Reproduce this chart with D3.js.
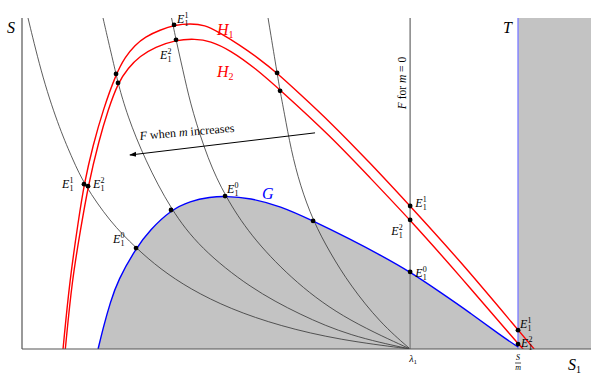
<!DOCTYPE html>
<html>
<head>
<meta charset="utf-8">
<script src="https://cdn.jsdelivr.net/npm/d3@7"></script>
<style>
  body { margin: 0; background: #fff; }
  svg { display: block; }
</style>
</head>
<body>
<div id="chart"></div>
<script>
// values: x is S1 with lambda1 = 10, y is S with the top of the frame = 10
const lambda1 = 10;
const sOverM = 12.78;
const xMax = 14.66;
const yMax = 10;

// G (blue, washout boundary)
const gX = [1.96, 2.11, 2.27, 2.47, 2.94, 3.3, 3.84, 4.33, 4.85, 5.23, 5.88, 6.65, 7.5, 8.45, 9.23, 10, 10.77, 11.55, 12.32, 12.78];
const gY = [0, 0.72, 1.39, 2.08, 3.05, 3.6, 4.2, 4.47, 4.59, 4.62, 4.56, 4.32, 3.87, 3.32, 2.84, 2.33, 1.72, 1.09, 0.42, 0.06];

// H1 and H2 (red)
const h1X = [1.057, 1.229, 1.456, 1.598, 1.83, 2.088, 2.423, 2.655, 2.912, 3.17, 3.557, 3.943, 4.33, 4.716, 5.052, 5.619, 6.082, 6.572, 7.165, 7.938, 8.969, 10, 11.289, 12.784, 13.196];
const h1Y = [0, 2.08, 3.9, 4.98, 6.16, 7.22, 8.31, 8.82, 9.18, 9.43, 9.64, 9.79, 9.83, 9.79, 9.58, 9.18, 8.79, 8.34, 7.7, 6.86, 5.62, 4.32, 2.66, 0.57, 0];
const h2X = [1.116, 1.289, 1.508, 1.701, 1.985, 2.216, 2.474, 2.732, 3.041, 3.428, 3.969, 4.459, 4.845, 5.361, 6.005, 6.675, 7.938, 8.969, 10, 11.289, 12.784, 12.912];
const h2Y = [0, 2.08, 3.6, 4.92, 6.31, 7.22, 8.04, 8.49, 8.85, 9.12, 9.34, 9.37, 9.31, 9.03, 8.49, 7.8, 6.44, 5.17, 3.9, 2.2, 0.15, 0];

// F curves for increasing m (black), all ending at lambda1
const fAX = [0.155, 0.541, 0.979, 1.314, 1.598, 2.268, 2.938, 3.557, 4.33, 5.361, 6.649, 8.196, 10];
const fAY = [10, 8.13, 6.62, 5.71, 4.98, 3.84, 3.05, 2.42, 1.81, 1.21, 0.69, 0.27, 0];
const fBX = [2.088, 2.216, 2.423, 2.474, 2.706, 3.17, 3.84, 4.588, 5.876, 7.165, 8.454, 10];
const fBY = [10, 9.34, 8.31, 8.04, 7.07, 5.71, 4.2, 3.05, 1.84, 1.03, 0.39, 0];
const fCX = [3.853, 3.969, 4.201, 4.381, 4.794, 5.232, 5.876, 6.907, 8.196, 10];
const fCY = [10, 9.34, 8.13, 7.22, 5.71, 4.62, 3.44, 2.15, 0.97, 0];
const fDX = [6.34, 6.572, 6.649, 6.753, 6.933, 7.165, 7.5, 7.938, 8.454, 9.227, 10];
const fDY = [10, 8.34, 7.8, 7.16, 6.01, 4.95, 3.87, 2.9, 1.93, 0.79, 0];

// equilibria E1 (black dots) and their superscripts
const eqX = [1.598, 1.701, 2.423, 2.474, 3.918, 3.969, 6.572, 6.649, 10, 10, 12.78, 12.78, 2.938, 3.84, 5.232, 7.5, 10];
const eqY = [4.98, 4.92, 8.31, 8.04, 9.79, 9.34, 8.34, 7.8, 4.32, 3.9, 0.57, 0.15, 3.05, 4.2, 4.62, 3.87, 2.33];
const eqSup = ["1", "2", "1", "2", "1", "2", "1", "2", "1", "2", "1", "2", "0", "0", "0", "0", "0"];

// arrow "F when m increases": start and tip
const arrowX = [7.55, 2.78];
const arrowY = [6.53, 5.86];

function init() {
    const w = 591;
    const h = 377;
    const serif = "'Liberation Serif', 'DejaVu Serif', serif";

    const x = d3.scaleLinear().domain([0, xMax]).range([22, 591]);
    const y = d3.scaleLinear().domain([0, yMax]).range([349, 18]);

    const svg = d3.select("#chart")
        .append("svg")
        .attr("width", w)
        .attr("height", h)
        .style("font-family", serif);

    svg.append("rect").attr("width", w).attr("height", h).attr("fill", "#fff");

    svg.append("defs").append("clipPath")
        .attr("id", "plotClip")
        .append("rect")
        .attr("x", x(0))
        .attr("y", y(yMax))
        .attr("width", x(xMax) - x(0))
        .attr("height", y(0) - y(yMax));

    svg.select("defs").append("marker")
        .attr("id", "arrowHead")
        .attr("viewBox", "0 0 10 10")
        .attr("refX", 9)
        .attr("refY", 5)
        .attr("markerWidth", 7)
        .attr("markerHeight", 7)
        .attr("orient", "auto")
        .append("path")
        .attr("d", "M0,1.5 L10,5 L0,8.5 Z")
        .attr("fill", "#000");

    const plot = svg.append("g").attr("clip-path", "url(#plotClip)");

    const zip = (xs, ys) => xs.map((v, i) => [v, ys[i]]);
    const line = d3.line()
        .x(d => x(d[0]))
        .y(d => y(d[1]))
        .curve(d3.curveBasis);

    // gray regions: under G and right of T
    const area = d3.area()
        .x(d => x(d[0]))
        .y0(y(0))
        .y1(d => y(d[1]))
        .curve(d3.curveBasis);
    plot.append("path")
        .datum(zip(gX, gY))
        .attr("d", area)
        .attr("fill", "#c3c3c3");
    plot.append("rect")
        .attr("x", x(sOverM))
        .attr("y", y(yMax))
        .attr("width", x(xMax) - x(sOverM))
        .attr("height", y(0) - y(yMax))
        .attr("fill", "#c3c3c3");

    // F curves
    [[fAX, fAY], [fBX, fBY], [fCX, fCY], [fDX, fDY]].forEach(function (c) {
        plot.append("path")
            .datum(zip(c[0], c[1]))
            .attr("d", line)
            .attr("fill", "none")
            .attr("stroke", "#333")
            .attr("stroke-width", 0.8);
    });

    // F for m = 0 and T
    plot.append("line")
        .attr("x1", x(lambda1)).attr("x2", x(lambda1))
        .attr("y1", y(0)).attr("y2", y(yMax))
        .attr("stroke", "#8c8c8c")
        .attr("stroke-width", 1.6);
    plot.append("line")
        .attr("x1", x(sOverM)).attr("x2", x(sOverM))
        .attr("y1", y(0)).attr("y2", y(yMax))
        .attr("stroke", "#8080ff")
        .attr("stroke-width", 1.4);

    // G
    plot.append("path")
        .datum(zip(gX, gY))
        .attr("d", line)
        .attr("fill", "none")
        .attr("stroke", "#0000ff")
        .attr("stroke-width", 1.4);

    // H1, H2
    [[h1X, h1Y], [h2X, h2Y]].forEach(function (c) {
        plot.append("path")
            .datum(zip(c[0], c[1]))
            .attr("d", line)
            .attr("fill", "none")
            .attr("stroke", "#ff0000")
            .attr("stroke-width", 1.4);
    });

    // axes
    svg.append("line")
        .attr("x1", x(0)).attr("x2", x(0))
        .attr("y1", y(0)).attr("y2", y(yMax))
        .attr("stroke", "#555").attr("stroke-width", 1.2);
    svg.append("line")
        .attr("x1", x(0)).attr("x2", x(xMax))
        .attr("y1", y(0)).attr("y2", y(0))
        .attr("stroke", "#555").attr("stroke-width", 1.2);

    // arrow
    svg.append("line")
        .attr("x1", x(arrowX[0])).attr("y1", y(arrowY[0]))
        .attr("x2", x(arrowX[1])).attr("y2", y(arrowY[1]))
        .attr("stroke", "#000")
        .attr("stroke-width", 1)
        .attr("marker-end", "url(#arrowHead)");

    // equilibria
    svg.selectAll("circle.eq")
        .data(eqX)
        .enter()
        .append("circle")
        .attr("class", "eq")
        .attr("cx", d => x(d))
        .attr("cy", (d, i) => y(eqY[i]))
        .attr("r", 2.4)
        .attr("fill", "#000");

    // label offsets (pixels from the dot) for the labelled equilibria
    const labelOffsets = {
        0: [-22, 4], 1: [5, 2], 4: [3, -2], 5: [-16, 19],
        8: [5, 1], 9: [-19, 15], 16: [5, 5],
        10: [2, -2], 11: [3, 3], 12: [-23, -5], 14: [2, -3]
    };
    Object.keys(labelOffsets).forEach(function (k) {
        const i = +k;
        const off = labelOffsets[k];
        const g = svg.append("g")
            .attr("transform", "translate(" + (x(eqX[i]) + off[0]) + "," + (y(eqY[i]) + off[1]) + ")");
        g.append("text").attr("font-style", "italic").attr("font-size", 12).text("E");
        g.append("text").attr("x", 7.5).attr("y", -5).attr("font-size", 8).text(eqSup[i]);
        g.append("text").attr("x", 7.5).attr("y", 3).attr("font-size", 8).text("1");
    });

    // curve names
    function named(px, py, name, sub, color) {
        const t = svg.append("text")
            .attr("x", px).attr("y", py)
            .attr("fill", color)
            .attr("font-size", 16);
        t.append("tspan").attr("font-style", "italic").text(name);
        if (sub) t.append("tspan").attr("font-size", 10).attr("dy", 3).text(sub);
    }
    named(217, 35, "H", "1", "#ff0000");
    named(217, 77, "H", "2", "#ff0000");
    named(262, 199, "G", null, "#0000ff");
    named(503, 33, "T", null, "#000");
    named(7, 33, "S", null, "#000");
    named(568, 370, "S", "1", "#000");

    // lambda1 tick label
    const lam = svg.append("text")
        .attr("x", x(lambda1) - 1).attr("y", 362)
        .attr("font-size", 10);
    lam.append("tspan").attr("font-style", "italic").text("λ");
    lam.append("tspan").attr("font-size", 7).attr("dy", 2).text("1");

    // S/m tick label
    const fr = svg.append("g").attr("transform", "translate(" + x(sOverM) + ",0)");
    fr.append("text").attr("y", 360).attr("text-anchor", "middle")
        .attr("font-size", 8).attr("font-style", "italic").text("S");
    fr.append("line").attr("x1", -3).attr("x2", 3).attr("y1", 363).attr("y2", 363)
        .attr("stroke", "#000").attr("stroke-width", 0.7);
    fr.append("text").attr("y", 370).attr("text-anchor", "middle")
        .attr("font-size", 8).attr("font-style", "italic").text("m");

    // F for m = 0
    const fm = svg.append("text")
        .attr("transform", "translate(" + (x(lambda1) - 4) + ",83) rotate(-90)")
        .attr("text-anchor", "middle")
        .attr("font-size", 11.5);
    fm.append("tspan").attr("font-style", "italic").text("F");
    fm.append("tspan").text(" for ");
    fm.append("tspan").attr("font-style", "italic").text("m");
    fm.append("tspan").text(" = 0");

    // F when m increases
    const fw = svg.append("text")
        .attr("transform", "translate(140,140) rotate(-5)")
        .attr("font-size", 12);
    fw.append("tspan").attr("font-style", "italic").text("F");
    fw.append("tspan").text(" when ");
    fw.append("tspan").attr("font-style", "italic").text("m");
    fw.append("tspan").text(" increases");
}

window.addEventListener("load", init);
</script>
</body>
</html>
